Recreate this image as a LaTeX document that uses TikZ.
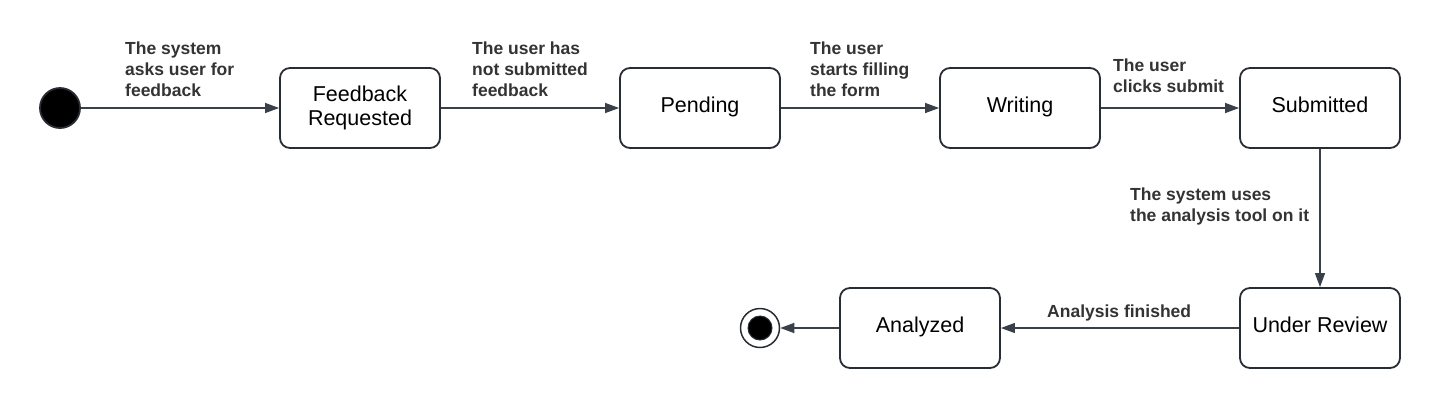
\documentclass[tikz,border=0pt]{standalone}
\usepackage{fontspec}
\setmainfont{Liberation Sans}
\usetikzlibrary{arrows.meta}
\definecolor{edgec}{RGB}{58,64,74}
\definecolor{boxc}{RGB}{40,44,52}
\definecolor{labc}{RGB}{51,51,51}
\tikzset{
  state/.style={draw=boxc, line width=1.8pt, rounded corners=10pt, minimum width=160pt, minimum height=80pt, align=center, inner sep=0pt, font=\fontsize{21.5}{24.5}\selectfont},
  onestate/.style={state, text height=14pt, text depth=6pt},
  trans/.style={draw=edgec, line width=1.2pt, -{Triangle[length=14pt,width=10pt]}},
  lab/.style={anchor=base west, align=left, inner sep=0pt, text=labc, font=\bfseries\fontsize{17.5}{21}\selectfont},
}
\begin{document}
\begin{tikzpicture}[x=1pt,y=-1pt]
\useasboundingbox (0,0) rectangle (1440,408);
\node[circle, fill=black, draw=boxc, line width=1.8pt, minimum size=40pt, inner sep=0pt] (start) at (60,108) {};
\node[state] (req) at (360,108) {Feedback\\Requested};
\node[onestate] (pend) at (700,108) {Pending};
\node[onestate] (writ) at (1020,108) {Writing};
\node[onestate] (sub) at (1320,108) {Submitted};
\node[onestate] (rev) at (1320,328) {Under Review};
\node[onestate] (ana) at (920,328) {Analyzed};
\node[circle, draw=boxc, line width=1.5pt, minimum size=39pt, inner sep=0pt] (end) at (760,328) {};
\node[circle, fill=black, draw=boxc, line width=1pt, minimum size=24pt, inner sep=0pt] (endin) at (760,328) {};

\draw[trans] (start) -- (req);
\draw[trans] (req) -- (pend);
\draw[trans] (pend) -- (writ);
\draw[trans] (writ) -- (sub);
\draw[trans] (sub) -- (rev);
\draw[trans] (rev) -- (ana);
\draw[trans] (ana) -- (end);

\node[lab] (l1) at (125,96) {The system\\asks user for\\feedback};
\node[lab] (l2) at (472,96) {The user has\\not submitted\\feedback};
\node[lab] (l3) at (810,96) {The user\\starts filling\\the form};
\node[lab] (l4) at (1113,92) {The user\\clicks submit};
\node[lab] (l5) at (1130,221) {The system uses\\the analysis tool on it};
\node[lab] (l6) at (1047,317) {Analysis finished};
\end{tikzpicture}
\end{document}
